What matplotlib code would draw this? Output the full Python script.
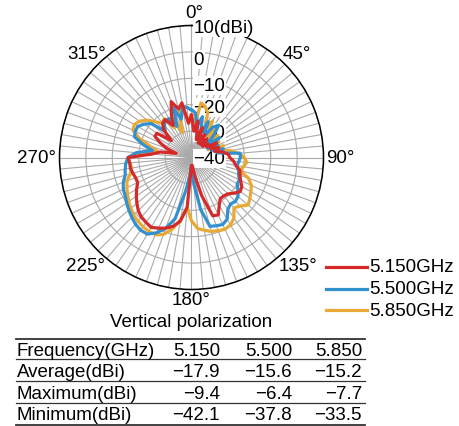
import numpy as np
import matplotlib
matplotlib.use("Agg")
import matplotlib.pyplot as plt

plt.rcParams['font.family'] = ['Liberation Sans', 'DejaVu Sans']

# ---- data -------------------------------------------------------------
angles_deg = list(range(0, 360, 5))

gain_5150 = [-24, -30, -26, -33, -28, -34, -30, -34, -31, -34, -32, -33,
             -29, -32, -29, -31, -28, -26, -25.5, -24, -23, -21, -20.5, -19.5,
             -18, -17.5, -19, -20.5, -21, -21, -19, -16, -16.5, -25, -33, -37,
             -37, -21, -15.5, -13, -11.5, -10.5, -9.4, -10, -10.5, -11.5, -13, -14.5,
             -16, -17.5, -17.5, -17, -16.5, -16.5, -16, -25, -28, -34, -30, -27,
             -24, -24, -30, -25, -23, -22.5, -26, -22, -17.5, -21, -19, -27]

gain_5500 = [-22, -23, -28, -24, -30, -25, -31, -26, -24, -28, -33, -27,
             -33, -29, -32, -27.5, -30, -21.5, -21.5, -22, -22.5, -21.5, -21, -20,
             -20, -18.5, -17, -16.5, -17, -16, -13, -12, -12.5, -13, -20, -30,
             -37, -33, -27, -16, -11.5, -8.5, -6.5, -6.4, -7, -8, -9, -10,
             -11, -11.5, -12.5, -14, -14.5, -15, -16, -19, -25, -21, -17, -16.5,
             -16.5, -18, -20, -26, -24, -23, -23, -27, -20, -25, -20.5, -21]

gain_5850 = [-24, -28, -19, -20, -22, -28, -24, -30, -26, -32, -27, -33,
             -28, -33, -27, -30, -25, -22, -20, -19, -20, -21, -17, -15,
             -14, -13, -12, -14, -15, -12, -10.5, -10, -10.5, -11, -12, -13,
             -16, -21, -16, -12, -9, -7.7, -7.7, -8, -8.5, -9, -10, -11,
             -12, -13, -14, -16, -17, -16.5, -16, -22, -27, -24, -19, -15.5,
             -15, -16, -18, -21, -23, -22, -27, -24, -30, -22, -21, -26]

series_labels = ['5.150GHz', '5.500GHz', '5.850GHz']
series_colors = ['#d52a2a', '#3390cf', '#e9a935']

angle_ticks = [0, 45, 90, 135, 180, 225, 270, 315]
angle_labels = ['0°', '45°', '90°', '135°', '180°', '225°', '270°', '315°']
radial_ticks = [-40, -30, -20, -10, 0, 10]
radial_labels = ['\u221240', '\u221230', '\u221220', '\u221210', '0', '10(dBi)']

table_rows = ['Frequency(GHz)', 'Average(dBi)', 'Maximum(dBi)', 'Minimum(dBi)']
freq_vals = ['5.150', '5.500', '5.850']
avg_vals = [-17.9, -15.6, -15.2]
max_vals = [-9.4, -6.4, -7.7]
min_vals = [-42.1, -37.8, -33.5]

# ---- figure -----------------------------------------------------------
W, H = 460, 427
fig = plt.figure(figsize=(W / 100, H / 100), dpi=100)
cx, cy, R = 191.5, 158.5, 132
ax = fig.add_axes([(cx - R) / W, 1 - (cy + R) / H, 2 * R / W, 2 * R / H],
                  projection='polar')
ax.set_theta_zero_location('N')
ax.set_theta_direction(-1)
ax.set_rlim(-40, 10)

fs = 13.5

# theta grid every 5 degrees (labels drawn manually)
tick_deg = np.arange(0, 360, 5)
ax.set_xticks(np.deg2rad(tick_deg))
ax.set_xticklabels([])
ax.set_yticks(radial_ticks)
ax.set_yticklabels([])
ax.grid(True, color='#aaaaaa', linewidth=0.8)
ax.spines['polar'].set_color('black')
ax.spines['polar'].set_linewidth(1.1)

# angle labels: offsets (pixels) from the outer circle
label_offsets = {0: (2.5, 13), 45: (11.5, 10.5), 90: (16.5, -0.5),
                 135: (13, -15), 180: (0, -10), 225: (-13, -15),
                 270: (-23, -0.5), 315: (-11.5, 10.5)}
for d, lab in zip(angle_ticks, angle_labels):
    ax.annotate(lab, xy=(np.deg2rad(d), 10), xytext=label_offsets[d],
                textcoords='offset pixels', ha='center', va='center',
                fontsize=fs, annotation_clip=False)

th = np.deg2rad(np.array(angles_deg + [angles_deg[0]]))
all_series = [gain_5150, gain_5500, gain_5850]
order = [2, 1, 0]
for i in order:
    g = np.array(all_series[i] + [all_series[i][0]], dtype=float)
    g = np.clip(g, -40, None)
    ax.plot(th, g, color=series_colors[i], lw=2.3, zorder=4,
            solid_joinstyle='round', clip_on=False)

# radial labels along 0 deg
r_dy = {10: -2, 0: -8, -10: -7, -20: -3, -30: -1, -40: -1}
for val, lab in zip(radial_ticks, radial_labels):
    ax.annotate(lab, xy=(0, val), xytext=(2, r_dy[val]),
                textcoords='offset pixels',
                ha='left', va='center', fontsize=fs, zorder=3,
                bbox=dict(boxstyle='square,pad=0.05', fc='white', ec='none'),
                annotation_clip=False)

# legend (manual)
for i, (lab, col) in enumerate(zip(series_labels, series_colors)):
    y = 1 - (268 + 21.5 * i) / H
    fig.add_artist(plt.Line2D([326 / W, 367 / W], [y, y], color=col, lw=2.3))
    fig.text(369 / W, y, lab, fontsize=fs, ha='left', va='center')

fig.text(191.5 / W, 1 - 323 / H, 'Vertical polarization', fontsize=fs,
         ha='center', va='center')

# table
def fmt(v):
    return ('\u2212' if v < 0 else '') + f'{abs(v):.1f}'

rows_text = [freq_vals,
             [fmt(v) for v in avg_vals],
             [fmt(v) for v in max_vals],
             [fmt(v) for v in min_vals]]
row_y = [351.5, 373, 394.5, 416]
col_x = [220, 292, 362]
for r, (name, vals) in enumerate(zip(table_rows, rows_text)):
    yy = 1 - row_y[r] / H
    fig.text(17 / W, yy, name, fontsize=fs, ha='left', va='center')
    for c, v in enumerate(vals):
        fig.text(col_x[c] / W, yy, v, fontsize=fs, ha='right', va='center')

line_y = [340, 359.5, 381.5, 404, 425.5]
for k, ly in enumerate(line_y):
    yy = 1 - ly / H
    fig.add_artist(plt.Line2D([16 / W, 365 / W], [yy, yy], color='#333333',
                              lw=1.3 if k in (0, 4) else 0.9))

fig.savefig('out.png', dpi=100)
